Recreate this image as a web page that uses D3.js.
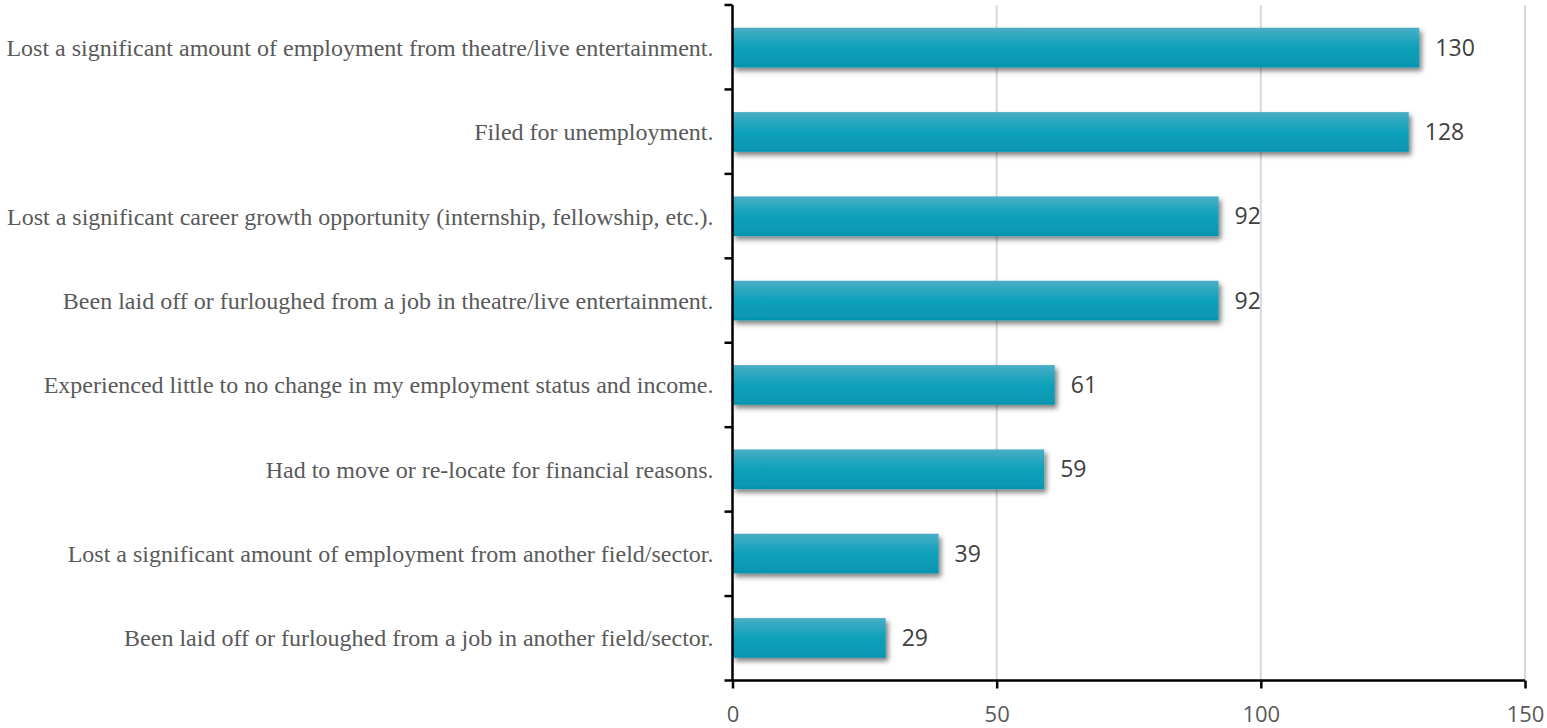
<!DOCTYPE html>
<head>
  <meta charset="utf-8">
  <style>
    body { margin: 0; background: #fff; }
    .cat { font: 24px "Liberation Serif", "Times New Roman", serif; fill: #595959; text-anchor: end; }
    .val { font: 23px "Open Sans", "Liberation Sans", sans-serif; fill: #404040; }
    .tick text { font: 22px "Open Sans", "Liberation Sans", sans-serif; fill: #595959; }
  </style>
</head>
<body>
  <svg width="1547" height="728"></svg>
  <script src="https://d3js.org/d3.v7.min.js"></script>
  <script>

  var categories = [
    "Lost a significant amount of employment from theatre/live entertainment.",
    "Filed for unemployment.",
    "Lost a significant career growth opportunity (internship, fellowship, etc.).",
    "Been laid off or furloughed from a job in theatre/live entertainment.",
    "Experienced little to no change in my employment status and income.",
    "Had to move or re-locate for financial reasons.",
    "Lost a significant amount of employment from another field/sector.",
    "Been laid off or furloughed from a job in another field/sector."
  ];
  var values = [130, 128, 92, 92, 61, 59, 39, 29];
  var xTicks = [0, 50, 100, 150];

  var svg = d3.select("svg"),
      plotLeft = 732.5, plotRight = 1525, plotTop = 5, plotBottom = 680.5;

  var x = d3.scaleLinear().domain([0, 150]).range([plotLeft, plotRight]);
  var y = d3.scaleBand().domain(categories).range([plotTop, plotBottom]).paddingInner(0.53).paddingOuter(0.27);

  var defs = svg.append("defs");
  var grad = defs.append("linearGradient").attr("id", "barGrad")
      .attr("x1", 0).attr("y1", 0).attr("x2", 0).attr("y2", 1);
  grad.append("stop").attr("offset", "0%").attr("stop-color", "#4aaec6");
  grad.append("stop").attr("offset", "45%").attr("stop-color", "#12a2bb");
  grad.append("stop").attr("offset", "100%").attr("stop-color", "#0595b1");

  var shadow = defs.append("filter").attr("id", "shadow")
      .attr("x", "-5%").attr("y", "-30%").attr("width", "115%").attr("height", "170%");
  shadow.append("feDropShadow").attr("dx", 2.5).attr("dy", 3.5).attr("stdDeviation", 2.5)
      .attr("flood-color", "#000").attr("flood-opacity", 0.5);

  // gridlines
  svg.append("g").selectAll("line")
    .data(xTicks.slice(1))
    .enter().append("line")
      .attr("x1", function(d) { return x(d); })
      .attr("x2", function(d) { return x(d); })
      .attr("y1", plotTop)
      .attr("y2", plotBottom)
      .attr("stroke", "#d9d9d9")
      .attr("stroke-width", 2);

  // bars
  svg.append("g").selectAll("rect")
    .data(values)
    .enter().append("rect")
      .attr("x", x(0))
      .attr("y", function(d, i) { return y(categories[i]); })
      .attr("width", function(d) { return x(d) - x(0); })
      .attr("height", y.bandwidth())
      .attr("fill", "url(#barGrad)")
      .attr("filter", "url(#shadow)");

  // value labels
  svg.append("g").selectAll("text")
    .data(values)
    .enter().append("text")
      .attr("class", "val")
      .attr("x", function(d) { return x(d) + 16; })
      .attr("y", function(d, i) { return y(categories[i]) + y.bandwidth() / 2; })
      .attr("dy", "0.35em")
      .text(function(d) { return d; });

  // category labels
  svg.append("g").selectAll("text")
    .data(categories)
    .enter().append("text")
      .attr("class", "cat")
      .attr("x", plotLeft - 19)
      .attr("y", function(d) { return y(d) + y.bandwidth() / 2; })
      .attr("dy", "0.35em")
      .text(function(d) { return d; });

  // y axis line with ticks between categories
  var yAxis = svg.append("g").attr("stroke", "#000").attr("stroke-width", 2.5);
  yAxis.append("line").attr("x1", plotLeft).attr("x2", plotLeft).attr("y1", plotTop).attr("y2", plotBottom);
  var step = (plotBottom - plotTop) / categories.length;
  yAxis.selectAll(".yt")
    .data(d3.range(categories.length))
    .enter().append("line")
      .attr("x1", plotLeft - 8).attr("x2", plotLeft)
      .attr("y1", function(i) { return plotTop + i * step; })
      .attr("y2", function(i) { return plotTop + i * step; });

  // x axis
  var xAxis = svg.append("g")
      .attr("transform", "translate(0," + plotBottom + ")")
      .call(d3.axisBottom(x).tickValues(xTicks).tickSize(8).tickSizeOuter(0));
  xAxis.select(".domain").attr("stroke", "#000").attr("stroke-width", 2.5).attr("d", "M" + (plotLeft - 8) + ",0H" + plotRight);
  xAxis.selectAll(".tick line").attr("stroke", "#000").attr("stroke-width", 2.5);
  xAxis.selectAll(".tick text").attr("y", 41).attr("dy", 0);

  </script>
</body>
</html>
